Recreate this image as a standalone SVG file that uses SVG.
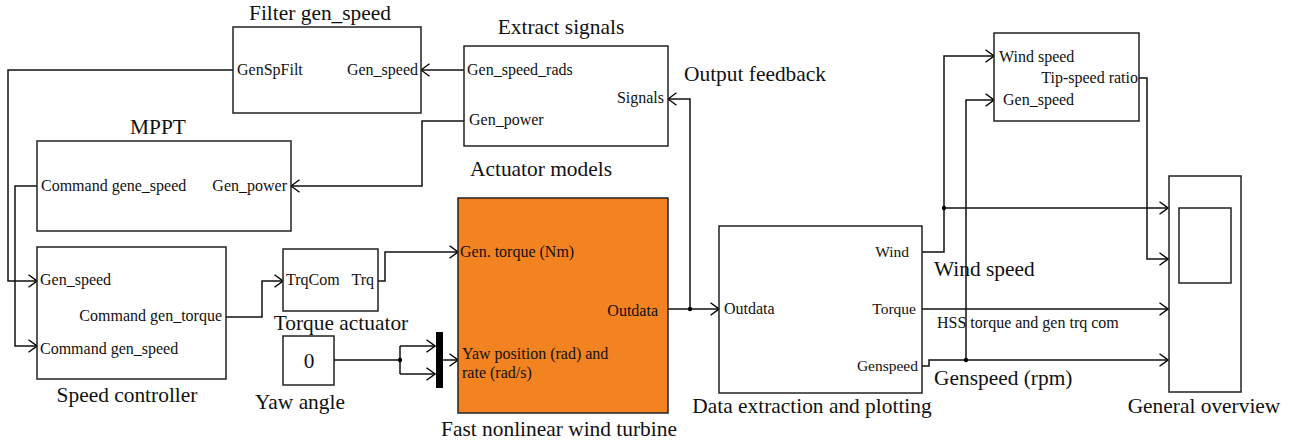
<svg xmlns="http://www.w3.org/2000/svg" width="1294" height="446" viewBox="0 0 1294 446">
<defs>
<marker id="arr" viewBox="0 0 10 14" refX="9.5" refY="7" markerWidth="10" markerHeight="14" markerUnits="userSpaceOnUse" orient="auto">
<path d="M1,0.8 L9.5,7 L1,13.2" fill="none" stroke="#000" stroke-width="1.4"/>
</marker>
</defs>
<style>
text{font-family:"Liberation Serif","Times New Roman",serif;fill:#111}
.t{font-size:21.4px}
.p{font-size:16px}
.ps{font-size:15.5px}
.box{fill:#fff;stroke:#222;stroke-width:1.5}
.w{fill:none;stroke:#111;stroke-width:1.5}
.a{marker-end:url(#arr)}
.m{text-anchor:middle}
.e{text-anchor:end}
</style>
<rect width="1294" height="446" fill="#fff"/>

<g id="connectors">
<path class="w a" d="M233,70 H8 V281 H37"/>
<path class="w a" d="M37,186 H15 V346 H37"/>
<path class="w a" d="M464,70 H421"/>
<path class="w a" d="M464,121 H422 V186 H291"/>
<path class="w a" d="M226,317 H262 V281 H283"/>
<path class="w a" d="M378,281 H385 V252 H458"/>
<path class="w" d="M334,360 H400 M400,346 V374"/>
<path class="w a" d="M400,346 H435"/>
<path class="w a" d="M400,374 H435"/>
<circle cx="400" cy="360" r="2.2" fill="#000"/>
<path class="w a" d="M443,360 H458"/>
<path class="w a" d="M668,309 H719"/>
<path class="w a" d="M690,309 V99 H668"/>
<circle cx="690" cy="309" r="2.2" fill="#000"/>
<path class="w a" d="M922,252 H944 V56 H994"/>
<path class="w a" d="M944,208 H1168"/>
<circle cx="944" cy="208" r="2.2" fill="#000"/>
<path class="w a" d="M1139,78 H1147 V259 H1168"/>
<path class="w a" d="M922,309 H1168"/>
<path class="w a" d="M922,366 H929 V360 H1168"/>
<path class="w a" d="M966,360 V100 H994"/>
<circle cx="966" cy="360" r="2.2" fill="#000"/>
</g>

<g id="filter">
<rect class="box" x="233" y="27" width="188" height="86"/>
<text class="t m" x="320" y="20">Filter gen_speed</text>
<text class="p" x="237" y="75">GenSpFilt</text>
<text class="p e" x="418" y="75">Gen_speed</text>
</g>

<g id="extract">
<rect class="box" x="464" y="46" width="204" height="100"/>
<text class="t m" x="561" y="34">Extract signals</text>
<text class="p" x="467" y="75">Gen_speed_rads</text>
<text class="p e" x="664" y="103">Signals</text>
<text class="p" x="469" y="125">Gen_power</text>
</g>
<text class="t" x="684" y="81">Output feedback</text>
<text class="t" x="470" y="176">Actuator models</text>

<g id="mppt">
<rect class="box" x="37" y="141" width="254" height="90"/>
<text class="t m" x="158" y="134">MPPT</text>
<text class="p" x="41" y="191">Command gene_speed</text>
<text class="p e" x="287" y="191">Gen_power</text>
</g>

<g id="speedctrl">
<rect class="box" x="37" y="247" width="189" height="132"/>
<text class="t m" x="127" y="402">Speed controller</text>
<text class="p" x="40" y="285">Gen_speed</text>
<text class="p e" x="222" y="321">Command gen_torque</text>
<text class="p" x="40" y="354">Command gen_speed</text>
</g>

<g id="torqueact">
<rect class="box" x="283" y="249" width="95" height="62"/>
<text class="p" x="286" y="285">TrqCom</text>
<text class="p e" x="374" y="285">Trq</text>
<text class="t m" x="341" y="330">Torque actuator</text>
</g>

<g id="yaw">
<rect class="box" x="283" y="336" width="51" height="49"/>
<text class="t m" x="309" y="368">0</text>
<text class="t m" x="300" y="409">Yaw angle</text>
</g>

<g id="mux">
<rect x="436" y="332" width="7" height="56" fill="#000"/>
</g>

<g id="turbine">
<rect x="458" y="198" width="210" height="215" fill="#F38221" stroke="#222" stroke-width="1.5"/>
<text class="p" x="460" y="257">Gen. torque (Nm)</text>
<text class="p e" x="658" y="316">Outdata</text>
<text class="p" x="462" y="359">Yaw position (rad) and</text>
<text class="p" x="462" y="378">rate (rad/s)</text>
<text class="t m" x="559" y="436">Fast nonlinear wind turbine</text>
</g>

<g id="dataext">
<rect class="box" x="719" y="226" width="203" height="167"/>
<text class="p" x="724" y="314">Outdata</text>
<text class="ps e" x="909" y="257">Wind</text>
<text class="ps e" x="916" y="314">Torque</text>
<text class="ps e" x="918" y="371">Genspeed</text>
<text class="t m" x="812" y="413">Data extraction and plotting</text>
</g>
<text class="t" x="934" y="276">Wind speed</text>
<text class="p" x="937" y="328">HSS torque and gen trq com</text>
<text class="t" x="934" y="385">Genspeed (rpm)</text>

<g id="tsr">
<rect class="box" x="994" y="33" width="145" height="88"/>
<text class="p" x="999" y="62">Wind speed</text>
<text class="p e" x="1138" y="83">Tip-speed ratio</text>
<text class="p" x="1003" y="105">Gen_speed</text>
</g>

<g id="scope">
<rect class="box" x="1169" y="176" width="72" height="216"/>
<rect class="box" x="1179" y="208" width="52" height="75"/>
<text class="t m" x="1204" y="413">General overview</text>
</g>
</svg>
